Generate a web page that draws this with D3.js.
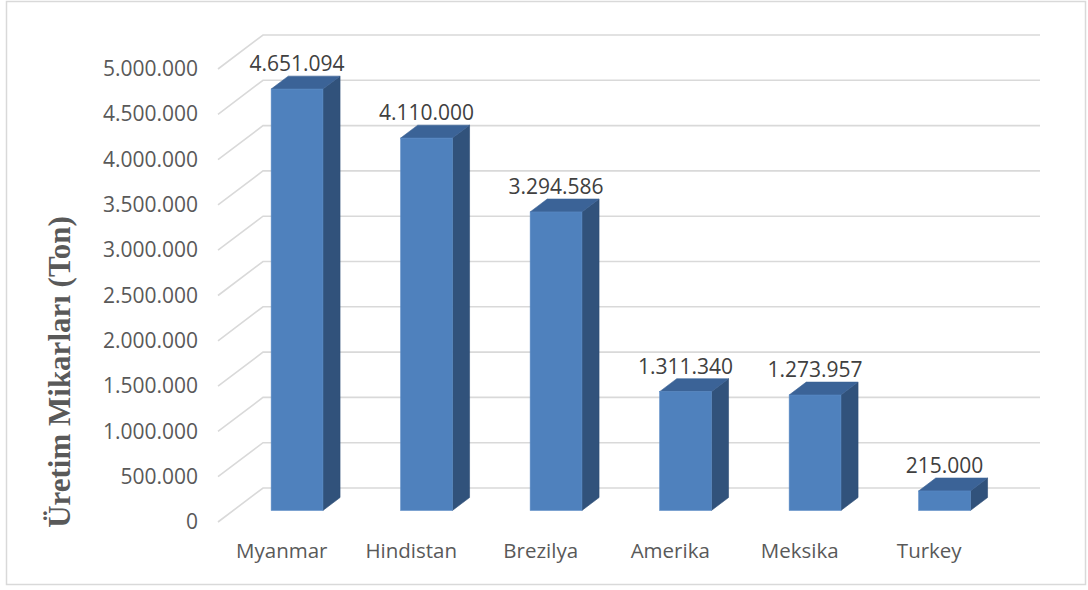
<!DOCTYPE html>
<html>
<head>
<meta charset="utf-8">
<script src="https://cdn.jsdelivr.net/npm/d3@7"></script>
<style>
  html, body { margin: 0; padding: 0; background: #ffffff; }
  svg { display: block; }
</style>
</head>
<body>
<svg id="chart" width="1088" height="590"></svg>
<script>
// Production amounts (tonnes) by country
const categories = ["Myanmar", "Hindistan", "Brezilya", "Amerika", "Meksika", "Turkey"];
const values = [4651094, 4110000, 3294586, 1311340, 1273957, 215000];
const valueLabels = ["4.651.094", "4.110.000", "3.294.586", "1.311.340", "1.273.957", "215.000"];
const tickValues = [0, 500000, 1000000, 1500000, 2000000, 2500000, 3000000, 3500000, 4000000, 4500000, 5000000];
const tickLabels = ["0", "500.000", "1.000.000", "1.500.000", "2.000.000", "2.500.000", "3.000.000", "3.500.000", "4.000.000", "4.500.000", "5.000.000"];
const yTitle = "Üretim Mikarları (Ton)";

const svg = d3.select("#chart");

// Outer frame
svg.append("rect")
  .attr("x", 6.5).attr("y", 1.5)
  .attr("width", 1079).attr("height", 583)
  .attr("fill", "#ffffff")
  .attr("stroke", "#d9d9d9").attr("stroke-width", 1.5);

// Oblique 3D projection: front plane coordinates plus depth offset
const DEPTH_DX = 45, DEPTH_DY = -34;
const x = d3.scaleBand().domain(categories).range([217, 994]).paddingInner(0).paddingOuter(0);
const y = d3.scaleLinear().domain([0, 5000000]).range([522, 69]);
const proj = (px, py, z) => [px + z * DEPTH_DX, py + z * DEPTH_DY];

// Gridlines: floor diagonal + back wall line
const grid = svg.append("g").attr("fill", "none").attr("stroke", "#d9d9d9").attr("stroke-width", 1.6);
tickValues.forEach(v => {
  const a = proj(x.range()[0] + 1, y(v), 0);
  const b = proj(x.range()[0] + 1, y(v), 1);
  const c = proj(x.range()[1] + 1, y(v), 1);
  grid.append("path").attr("d", `M${a[0]},${a[1]}L${b[0]},${b[1]}L${c[0]},${c[1]}`);
});

// Y-axis tick labels
svg.append("g")
  .selectAll("text")
  .data(tickValues)
  .join("text")
  .attr("x", 198)
  .attr("y", d => y(d) + 1.5)
  .attr("text-anchor", "end")
  .attr("dominant-baseline", "middle")
  .attr("font-family", "'Open Sans', sans-serif")
  .attr("font-size", 21)
  .attr("fill", "#595959")
  .text((d, i) => tickLabels[i]);

// Bars as prisms
const barFrac = 0.40, z0 = 0.34, z1 = 0.72;
const bw = x.bandwidth() * barFrac;
const bars = svg.append("g");
categories.forEach((cat, i) => {
  const v = values[i];
  const xl = x(cat) + (x.bandwidth() - bw) / 2;
  const xr = xl + bw;
  const yb = y(0), yt = y(v);
  const P = (px, py, z) => proj(px, py, z).join(",");
  // side face
  bars.append("path")
    .attr("d", `M${P(xr, yb, z0)}L${P(xr, yb, z1)}L${P(xr, yt, z1)}L${P(xr, yt, z0)}Z`)
    .attr("fill", "#31527b").attr("stroke", "#2e4e75").attr("stroke-width", 0.6);
  // top face
  bars.append("path")
    .attr("d", `M${P(xl, yt, z0)}L${P(xr, yt, z0)}L${P(xr, yt, z1)}L${P(xl, yt, z1)}Z`)
    .attr("fill", "#3b6397").attr("stroke", "#3a6194").attr("stroke-width", 0.6);
  // front face
  const f0 = proj(xl, yt, z0), f1 = proj(xr, yb, z0);
  bars.append("rect")
    .attr("x", f0[0]).attr("y", f0[1])
    .attr("width", f1[0] - f0[0]).attr("height", f1[1] - f0[1])
    .attr("fill", "#4f81bd").attr("stroke", "#5b8cc6").attr("stroke-width", 0.6);
  // value label
  const topBack = proj(xl, yt, z1)[1];
  bars.append("text")
    .attr("x", (f0[0] + f1[0]) / 2)
    .attr("y", topBack - 5)
    .attr("text-anchor", "middle")
    .attr("font-family", "'Open Sans', sans-serif")
    .attr("font-size", 21)
    .attr("fill", "#404040")
    .text(valueLabels[i]);
});

// Category labels
svg.append("g")
  .selectAll("text")
  .data(categories)
  .join("text")
  .attr("x", d => x(d) + x.bandwidth() / 2)
  .attr("y", 558)
  .attr("text-anchor", "middle")
  .attr("font-family", "'Open Sans', sans-serif")
  .attr("font-size", 20.5)
  .attr("fill", "#595959")
  .text(d => d);

// Y-axis title
svg.append("text")
  .attr("transform", "translate(70,372) rotate(-90)")
  .attr("text-anchor", "middle")
  .attr("font-family", "'Liberation Serif', 'Times New Roman', serif")
  .attr("font-weight", "bold")
  .attr("font-size", 31)
  .attr("fill", "#595959")
  .text(yTitle);
</script>
</body>
</html>
